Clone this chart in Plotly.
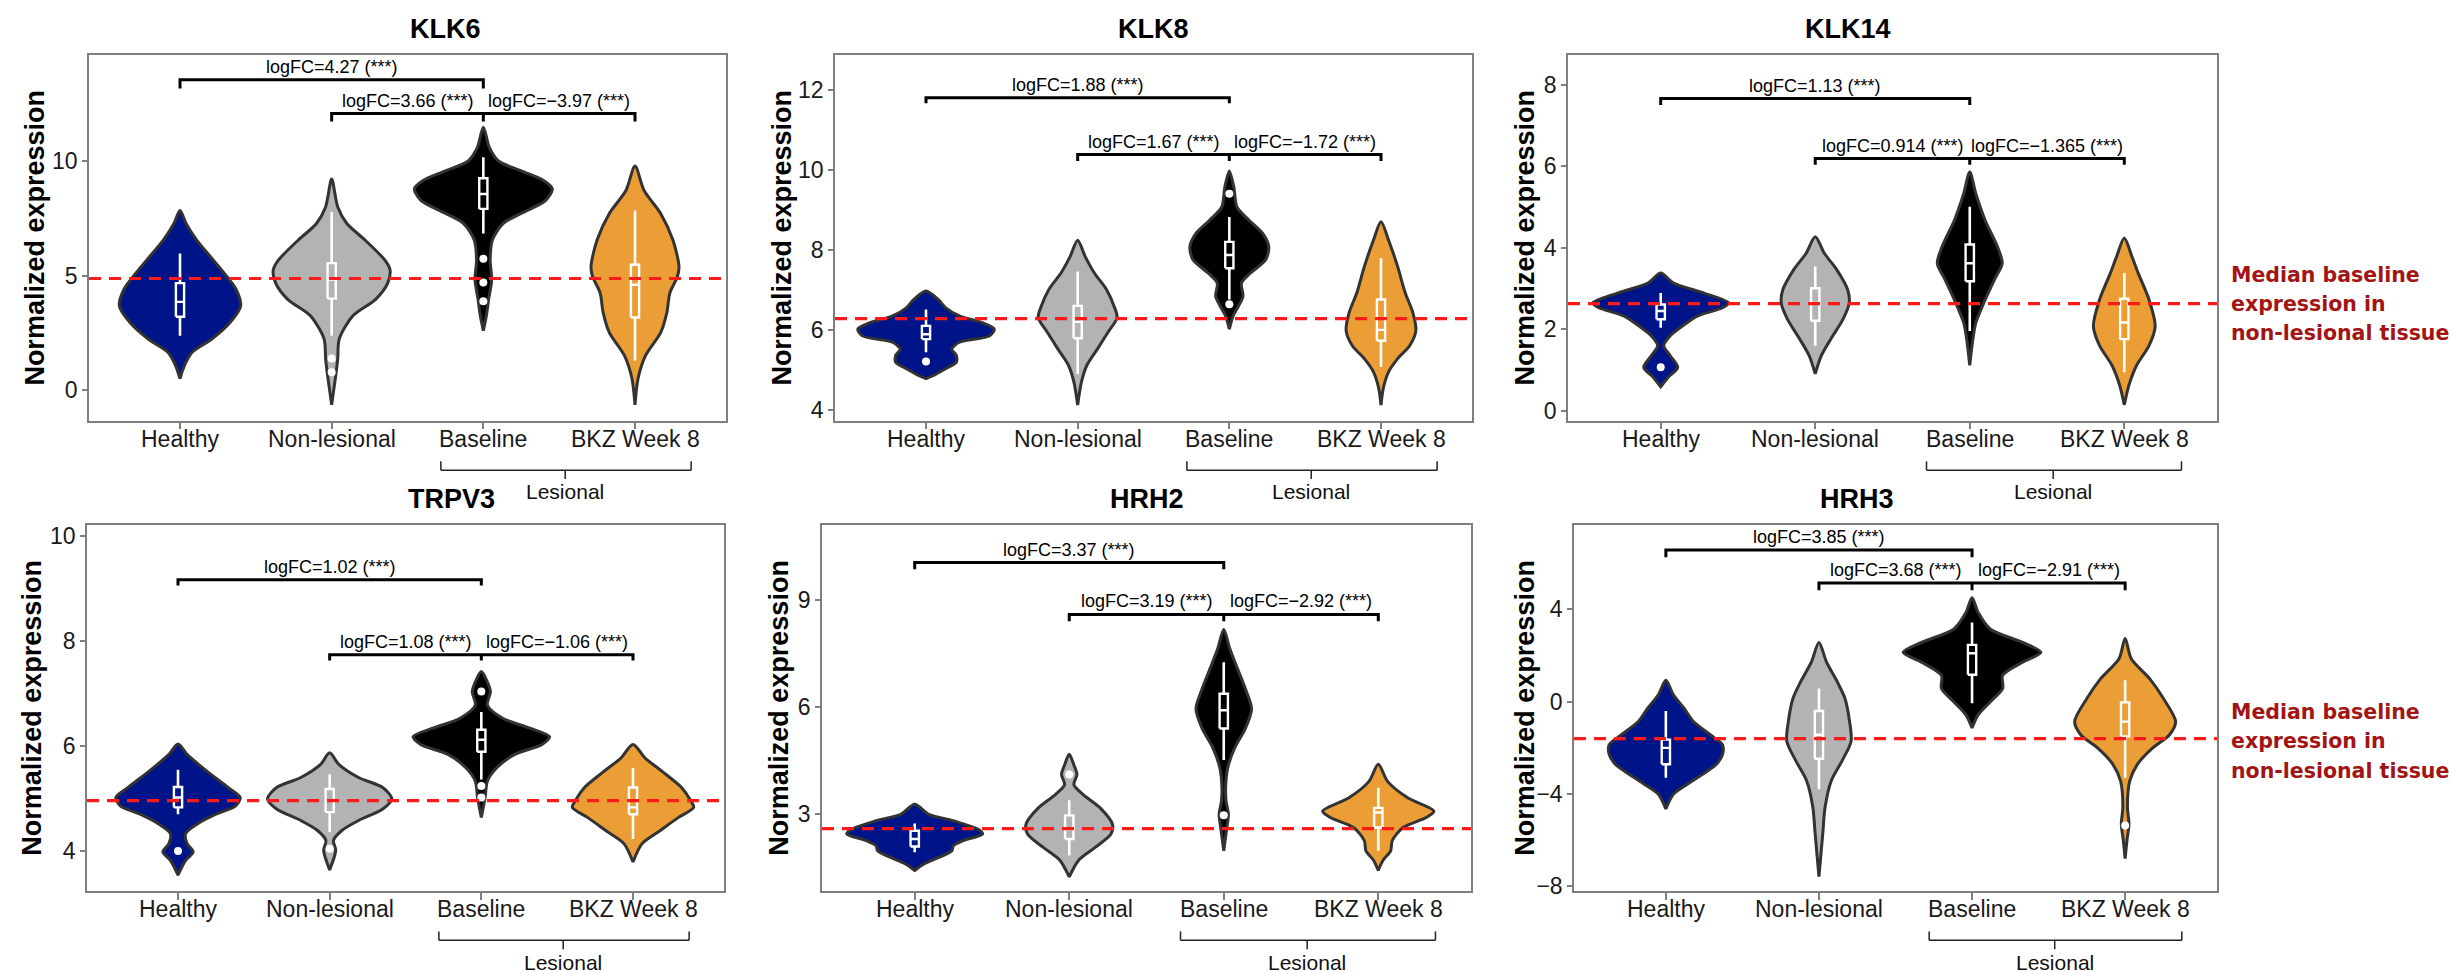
import plotly.graph_objects as go

W, H = 2458, 971

categories = ["Healthy", "Non-lesional", "Baseline", "BKZ Week 8"]
cat_pos = [1, 2, 3, 4]
colors = ["#001489", "#B3B3B3", "#000000", "#EB9E35"]
genes = ["KLK6", "KLK8", "KLK14", "TRPV3", "HRH2", "HRH3"]

# ---- violin density profiles (y level, half width in category units) ----
KLK6_prof_y = [
    [7.84, 7.27, 6.55, 5.83, 5.11, 4.39, 3.67, 2.95, 2.23, 1.65, 1.08, 0.50],
    [9.21, 7.99, 7.27, 6.55, 5.68, 5.25, 4.68, 3.96, 3.24, 2.23, 1.37, 0.79, 0.07, -0.65],
    [11.47, 10.58, 10.0, 9.57, 9.14, 8.78, 8.27, 7.84, 7.27, 6.55, 5.68, 4.82, 3.96, 3.24, 2.59],
    [9.78, 8.71, 7.70, 6.55, 5.40, 4.96, 4.24, 3.38, 2.52, 1.51, 0.50, -0.65],
]
KLK6_prof_w = [
    [0, 0.04, 0.11, 0.20, 0.29, 0.37, 0.40, 0.33, 0.21, 0.08, 0.03, 0],
    [0, 0.04, 0.10, 0.22, 0.35, 0.385, 0.37, 0.29, 0.14, 0.05, 0.04, 0.03, 0.015, 0],
    [0, 0.04, 0.10, 0.25, 0.40, 0.455, 0.41, 0.29, 0.13, 0.06, 0.045, 0.055, 0.035, 0.02, 0],
    [0, 0.06, 0.17, 0.25, 0.29, 0.28, 0.23, 0.21, 0.17, 0.07, 0.02, 0],
]
KLK6_q1 = [3.20, 3.99, 7.91, 3.17]
KLK6_med = [3.85, 4.82, 8.56, 4.60]
KLK6_q3 = [4.67, 5.54, 9.25, 5.47]
KLK6_lo = [2.37, 2.37, 6.83, 1.29]
KLK6_hi = [5.96, 7.77, 10.17, 7.84]
KLK6_out = [[], [1.38, 0.78], [5.73, 4.70, 3.88], []]
KLK6_ref = 4.87
KLK6_fc = ["4.27", "3.66", "\u22123.97"]
KLK6_yrange = [-1.34, 14.65]
KLK6_yticks = [0, 5, 10]
KLK6_brk = [13.55, 13.17, 12.07, 11.73]

KLK8_prof_y = [
    [6.97, 6.76, 6.55, 6.35, 6.18, 6.02, 5.85, 5.69, 5.52, 5.36, 5.19, 5.03, 4.86, 4.78],
    [8.24, 7.83, 7.42, 7.01, 6.59, 6.31, 5.94, 5.52, 5.11, 4.70, 4.12],
    [9.97, 9.56, 9.07, 8.74, 8.41, 8.08, 7.75, 7.42, 7.17, 6.84, 6.59, 6.35, 6.02],
    [8.70, 8.24, 7.58, 6.92, 6.43, 5.98, 5.61, 5.28, 4.95, 4.54, 4.12],
]
KLK8_prof_w = [
    [0, 0.08, 0.13, 0.22, 0.37, 0.45, 0.42, 0.22, 0.17, 0.20, 0.20, 0.13, 0.05, 0],
    [0, 0.05, 0.11, 0.19, 0.24, 0.26, 0.20, 0.13, 0.06, 0.025, 0],
    [0, 0.03, 0.05, 0.13, 0.22, 0.26, 0.24, 0.14, 0.08, 0.09, 0.06, 0.025, 0],
    [0, 0.05, 0.11, 0.16, 0.21, 0.23, 0.19, 0.11, 0.05, 0.015, 0],
]
KLK8_q1 = [5.77, 5.79, 7.54, 5.73]
KLK8_med = [5.89, 6.20, 7.87, 6.00]
KLK8_q3 = [6.10, 6.60, 8.20, 6.76]
KLK8_lo = [5.44, 4.90, 6.76, 5.07]
KLK8_hi = [6.51, 7.46, 8.82, 7.79]
KLK8_out = [[5.21], [], [9.40, 6.64], []]
KLK8_ref = 6.28
KLK8_fc = ["1.88", "1.67", "\u22121.72"]
KLK8_yrange = [3.73, 12.88]
KLK8_yticks = [4, 6, 8, 10, 12]
KLK8_brk = [11.80, 11.66, 10.38, 10.22]

KLK14_prof_y = [
    [3.38, 3.14, 2.89, 2.65, 2.53, 2.33, 2.08, 1.84, 1.60, 1.36, 1.07, 0.83, 0.59],
    [4.27, 3.86, 3.46, 2.97, 2.65, 2.25, 1.76, 1.36, 0.91],
    [5.86, 5.32, 4.67, 4.02, 3.62, 3.22, 2.73, 2.17, 1.76, 1.12],
    [4.24, 3.78, 3.38, 2.73, 2.08, 1.60, 1.12, 0.63, 0.15],
]
KLK14_prof_w = [
    [0, 0.08, 0.28, 0.44, 0.40, 0.24, 0.14, 0.06, 0.02, 0.06, 0.11, 0.05, 0],
    [0, 0.06, 0.14, 0.21, 0.22, 0.18, 0.10, 0.04, 0],
    [0, 0.04, 0.10, 0.18, 0.21, 0.16, 0.10, 0.04, 0.02, 0],
    [0, 0.05, 0.09, 0.16, 0.20, 0.16, 0.08, 0.03, 0],
]
KLK14_q1 = [2.25, 2.21, 3.18, 1.76]
KLK14_med = [2.45, 2.65, 3.62, 2.17]
KLK14_q3 = [2.61, 3.01, 4.08, 2.75]
KLK14_lo = [2.04, 1.60, 1.96, 0.95]
KLK14_hi = [2.89, 3.54, 5.01, 3.38]
KLK14_out = [[1.07], [], [], []]
KLK14_ref = 2.63
KLK14_fc = ["1.13", "0.914", "\u22121.365"]
KLK14_yrange = [-0.24, 8.74]
KLK14_yticks = [0, 2, 4, 6, 8]
KLK14_brk = [7.66, 7.50, 6.19, 6.04]

TRPV3_prof_y = [
    [6.04, 5.84, 5.52, 5.21, 5.02, 4.86, 4.70, 4.52, 4.33, 4.14, 3.98, 3.82, 3.54],
    [5.87, 5.65, 5.40, 5.21, 4.99, 4.80, 4.58, 4.39, 4.20, 4.01, 3.64],
    [7.42, 7.22, 7.03, 6.78, 6.53, 6.34, 6.18, 6.03, 5.84, 5.58, 5.33, 5.02, 4.64],
    [6.03, 5.77, 5.52, 5.21, 4.96, 4.83, 4.64, 4.39, 4.14, 3.79],
]
TRPV3_prof_w = [
    [0, 0.06, 0.19, 0.33, 0.41, 0.38, 0.25, 0.13, 0.05, 0.06, 0.10, 0.05, 0],
    [0, 0.06, 0.19, 0.35, 0.41, 0.35, 0.19, 0.08, 0.025, 0.04, 0],
    [0, 0.04, 0.06, 0.04, 0.14, 0.32, 0.45, 0.40, 0.22, 0.10, 0.04, 0.025, 0],
    [0, 0.08, 0.19, 0.32, 0.38, 0.40, 0.30, 0.18, 0.06, 0],
]
TRPV3_q1 = [4.83, 4.74, 5.89, 4.70]
TRPV3_med = [5.02, 4.96, 6.12, 4.83]
TRPV3_q3 = [5.22, 5.18, 6.31, 5.21]
TRPV3_lo = [4.70, 4.36, 5.36, 4.23]
TRPV3_hi = [5.55, 5.46, 6.65, 5.58]
TRPV3_out = [[4.00], [4.04], [7.04, 5.24, 5.02], []]
TRPV3_ref = 4.96
TRPV3_fc = ["1.02", "1.08", "\u22121.06"]
TRPV3_yrange = [3.24, 10.22]
TRPV3_yticks = [4, 6, 8, 10]
TRPV3_brk = [9.17, 9.06, 7.74, 7.63]

HRH2_prof_y = [
    [3.28, 3.00, 2.82, 2.58, 2.45, 2.26, 2.12, 1.98, 1.80, 1.61, 1.43],
    [4.68, 4.38, 4.11, 3.83, 3.55, 3.18, 2.72, 2.45, 2.08, 1.71, 1.25],
    [8.17, 7.62, 7.06, 6.51, 5.95, 5.40, 4.85, 4.29, 3.74, 3.37, 3.00, 2.63, 1.98],
    [4.40, 3.92, 3.46, 3.09, 2.91, 2.63, 2.26, 1.98, 1.71, 1.43],
]
HRH2_prof_w = [
    [0, 0.09, 0.25, 0.41, 0.44, 0.31, 0.25, 0.24, 0.16, 0.06, 0],
    [0, 0.03, 0.05, 0.03, 0.09, 0.20, 0.28, 0.27, 0.17, 0.06, 0],
    [0, 0.04, 0.09, 0.14, 0.18, 0.14, 0.07, 0.025, 0.012, 0.015, 0.03, 0.02, 0],
    [0, 0.06, 0.19, 0.36, 0.31, 0.16, 0.09, 0.08, 0.03, 0],
]
HRH2_q1 = [2.10, 2.31, 5.40, 2.63]
HRH2_med = [2.31, 2.58, 5.91, 3.05]
HRH2_q3 = [2.54, 2.97, 6.37, 3.18]
HRH2_lo = [1.94, 1.85, 4.52, 1.98]
HRH2_hi = [2.74, 3.39, 7.25, 3.74]
HRH2_out = [[], [4.11], [2.97], []]
HRH2_ref = 2.60
HRH2_fc = ["3.37", "3.19", "\u22122.92"]
HRH2_yrange = [0.86, 11.10]
HRH2_yticks = [3, 6, 9]
HRH2_brk = [10.04, 9.85, 8.59, 8.40]

HRH3_prof_y = [
    [0.93, 0.29, -0.29, -0.86, -1.43, -1.86, -2.29, -2.71, -3.14, -3.57, -4.00, -4.64],
    [2.57, 1.71, 0.86, 0.14, -0.86, -1.71, -2.57, -3.43, -4.57, -5.71, -7.57],
    [4.50, 3.86, 3.14, 2.57, 2.14, 1.71, 1.14, 0.57, 0.00, -0.57, -1.14],
    [2.74, 1.86, 1.00, 0.14, -0.86, -1.43, -2.00, -2.71, -3.43, -4.57, -5.29, -6.00, -6.79],
]
HRH3_prof_w = [
    [0, 0.05, 0.12, 0.18, 0.29, 0.37, 0.37, 0.33, 0.24, 0.14, 0.05, 0],
    [0, 0.05, 0.12, 0.17, 0.20, 0.21, 0.15, 0.08, 0.04, 0.025, 0],
    [0, 0.04, 0.12, 0.33, 0.45, 0.33, 0.20, 0.20, 0.12, 0.04, 0],
    [0, 0.04, 0.16, 0.25, 0.33, 0.29, 0.18, 0.08, 0.03, 0.015, 0.025, 0.012, 0],
]
HRH3_q1 = [-2.71, -2.47, 1.17, -1.50]
HRH3_med = [-2.00, -1.43, 2.10, -0.86]
HRH3_q3 = [-1.64, -0.40, 2.46, -0.03]
HRH3_lo = [-3.29, -3.79, -0.07, -3.29]
HRH3_hi = [-0.40, 0.57, 3.43, 0.93]
HRH3_out = [[], [], [], [-5.36]]
HRH3_ref = -1.60
HRH3_fc = ["3.85", "3.68", "\u22122.91"]
HRH3_yrange = [-8.19, 7.67]
HRH3_yticks = [-8, -4, 0, 4]
HRH3_brk = [6.57, 6.26, 5.14, 4.83]

ref_label = ["Median baseline", "expression in", "non-lesional tissue"]

# ---- layout geometry (pixels) ----
panel_px = [  # left, right, top, bottom
    (81, 718, 46, 416), (827, 1464, 46, 416), (1560, 2209, 46, 416),
    (79, 716, 521, 891), (814, 1463, 521, 891), (1566, 2209, 521, 891),
]
ytitle_x = [27, 774, 1517, 24, 771, 1517]
BOX_HALF = 0.027

G = globals()
fig = go.Figure()
annotations = []
shapes = []
layout = {}


def px_x(p):
    return p / W


def px_y(p):
    return 1 - p / H


FONT = "Liberation Sans, Arial, sans-serif"

for i, g in enumerate(genes):
    k = "" if i == 0 else str(i + 1)
    xa, ya = "x" + k, "y" + k
    L, R, T, B = panel_px[i]
    prof_y, prof_w = G[g + "_prof_y"], G[g + "_prof_w"]
    q1, med, q3 = G[g + "_q1"], G[g + "_med"], G[g + "_q3"]
    lo, hi, outs = G[g + "_lo"], G[g + "_hi"], G[g + "_out"]
    ref, fc, yr, yt, brk = G[g + "_ref"], G[g + "_fc"], G[g + "_yrange"], G[g + "_yticks"], G[g + "_brk"]

    for j, c in enumerate(cat_pos):
        ys, ws = prof_y[j], prof_w[j]
        xs = [c + w for w in ws] + [c - w for w in ws[::-1]]
        yy = list(ys) + list(ys[::-1])
        fig.add_trace(go.Scatter(x=xs, y=yy, mode="lines", fill="toself",
                                 fillcolor=colors[j],
                                 line=dict(color="#333333", width=3, shape="spline", smoothing=0.8),
                                 xaxis=xa, yaxis=ya, showlegend=False, hoverinfo="skip"))
        # whiskers
        fig.add_trace(go.Scatter(x=[c, c, None, c, c], y=[lo[j], q1[j], None, q3[j], hi[j]],
                                 mode="lines", line=dict(color="white", width=2.6),
                                 xaxis=xa, yaxis=ya, showlegend=False, hoverinfo="skip"))
        # box
        bl, br = c - BOX_HALF, c + BOX_HALF
        fig.add_trace(go.Scatter(x=[bl, br, br, bl, bl], y=[q1[j], q1[j], q3[j], q3[j], q1[j]],
                                 mode="lines", fill="toself", fillcolor=colors[j],
                                 line=dict(color="white", width=2.4),
                                 xaxis=xa, yaxis=ya, showlegend=False, hoverinfo="skip"))
        # median
        fig.add_trace(go.Scatter(x=[bl, br], y=[med[j], med[j]], mode="lines",
                                 line=dict(color="white", width=2.4),
                                 xaxis=xa, yaxis=ya, showlegend=False, hoverinfo="skip"))
        if outs[j]:
            fig.add_trace(go.Scatter(x=[c] * len(outs[j]), y=outs[j], mode="markers",
                                     marker=dict(color="white", size=8),
                                     xaxis=xa, yaxis=ya, showlegend=False, hoverinfo="skip"))

    # significance brackets
    t1, d1, t2, d2 = brk
    for bx, by in [([1, 1, 3, 3], [d1, t1, t1, d1]), ([2, 2, 4, 4], [d2, t2, t2, d2]), ([3, 3], [t2, d2])]:
        fig.add_trace(go.Scatter(x=bx, y=by, mode="lines", line=dict(color="black", width=3),
                                 xaxis=xa, yaxis=ya, showlegend=False, hoverinfo="skip"))
    for tx, ty, txt in [(2, t1, fc[0]), (2.5, t2, fc[1]), (3.5, t2, fc[2])]:
        annotations.append(dict(x=tx, y=ty, xref=xa, yref=ya, text=f"logFC={txt} (***)",
                                showarrow=False, yanchor="bottom", yshift=1,
                                font=dict(family=FONT, size=18, color="black")))

    # reference dashed line
    shapes.append(dict(type="line", xref=xa + " domain", yref=ya, x0=0, x1=1, y0=ref, y1=ref,
                       line=dict(color="#FF1A1A", width=3.2, dash="12px,8px"), layer="above"))

    # category labels under the axis
    for c, lab in zip(cat_pos, categories):
        annotations.append(dict(x=c, y=px_y(B + 18), xref=xa, yref="paper", text=lab,
                                showarrow=False, yanchor="middle",
                                font=dict(family=FONT, size=23, color="#1a1a1a")))

    # Lesional brace below axis
    top_px = B + 41
    mid_px = B + 50
    bot_px = B + 59
    for (x0, y0, x1, y1) in [(2.72, top_px, 2.72, mid_px), (2.72, mid_px, 4.37, mid_px),
                             (4.37, mid_px, 4.37, top_px), (3.54, mid_px, 3.54, bot_px)]:
        shapes.append(dict(type="line", xref=xa, yref="paper", x0=x0, x1=x1,
                           y0=px_y(y0), y1=px_y(y1), line=dict(color="#222222", width=1.5)))
    annotations.append(dict(x=3.54, y=px_y(B + 72), xref=xa, yref="paper", text="Lesional",
                            showarrow=False, yanchor="middle",
                            font=dict(family=FONT, size=21, color="#111111")))

    # titles
    annotations.append(dict(x=px_x((L + R) / 2), y=px_y(T - 26), xref="paper", yref="paper",
                            text=f"<b>{g}</b>", showarrow=False, yanchor="middle",
                            font=dict(family=FONT, size=27, color="black")))
    annotations.append(dict(x=px_x(ytitle_x[i]), y=px_y((T + B) / 2), xref="paper", yref="paper",
                            text="<b>Normalized expression</b>", textangle=-90, showarrow=False,
                            xanchor="center", yanchor="middle",
                            font=dict(family=FONT, size=27, color="black")))

    layout["xaxis" + k] = dict(domain=[px_x(L), px_x(R)], anchor=ya, range=[0.4, 4.6],
                               tickvals=cat_pos, showticklabels=False, showgrid=False, zeroline=False,
                               showline=True, mirror=True, linecolor="#7F7F7F", linewidth=1.5,
                               ticks="outside", ticklen=7, tickwidth=1.5, tickcolor="#7F7F7F")
    layout["yaxis" + k] = dict(domain=[px_y(B), px_y(T)], anchor=xa, range=yr, tickvals=yt,
                               showgrid=False, zeroline=False, showline=True, mirror=True,
                               linecolor="#7F7F7F", linewidth=1.5, ticks="outside", ticklen=5,
                               tickwidth=1.5, tickcolor="#7F7F7F",
                               tickfont=dict(family=FONT, size=23, color="#1a1a1a"))

# red side labels
for row_mid in [298, 740]:
    for n, line in enumerate(ref_label):
        annotations.append(dict(x=px_x(2221), y=px_y(row_mid + (n - 1) * 29.5), xref="paper", yref="paper",
                                text=f"<b>{line}</b>", showarrow=False, xanchor="left", yanchor="middle",
                                font=dict(family="DejaVu Sans", size=20.5, color="#A31515")))

fig.update_layout(width=W, height=H, autosize=False, margin=dict(l=0, r=0, t=0, b=0),
                  paper_bgcolor="white", plot_bgcolor="white",
                  showlegend=False, annotations=annotations, shapes=shapes, **layout)

fig.write_html("out.html")
